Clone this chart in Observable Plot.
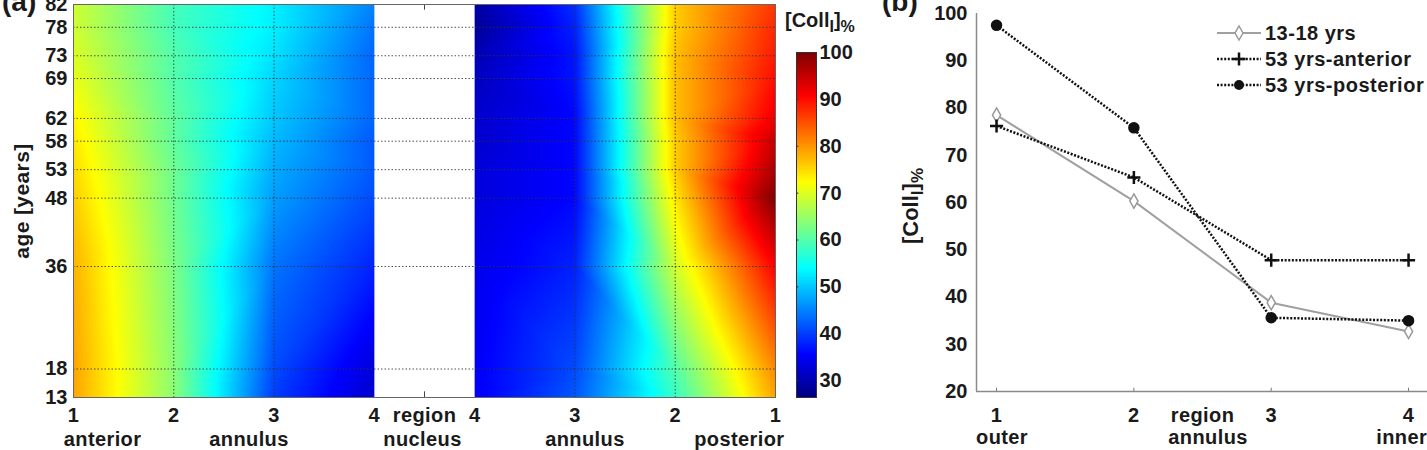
<!DOCTYPE html>
<html>
<head>
<meta charset="utf-8">
<script src="https://cdn.jsdelivr.net/npm/d3@7"></script>
<script src="https://cdn.jsdelivr.net/npm/@observablehq/plot@0.6"></script>
<style>
  body { margin: 0; background: #fff; }
  #fig { position: relative; width: 1427px; height: 450px; overflow: hidden;
         font-family: "Liberation Sans", Arial, sans-serif; font-weight: bold; color: #1a1a1a; }
  .abs { position: absolute; white-space: nowrap; }
  .panel-tag { font-size: 28px; line-height: 28px; }
  .coll { font-size: 20px; line-height: 20px; }
  .coll sub { font-size: 16px; vertical-align: -5px; line-height: 0; }
  .coll.big { font-size: 22px; line-height: 22px; }
  .coll.big sub { font-size: 17px; }
  .legend { left: 1217px; top: 20px; font-size: 20px; letter-spacing: 0.5px; }
  .legend .row { display: flex; align-items: center; height: 26px; }
  .legend svg { margin-right: 4px; }
  .words { letter-spacing: 0.4px; }
</style>
</head>
<body>
<div id="fig"></div>
<script>
// ---- (a) collagen I content across the disc, by age ----
const ages = [13, 18, 36, 48, 53, 58, 62, 69, 73, 78, 82];
const regions = [1, 2, 3, 4];
// rows follow `ages`, columns follow `regions` (1 = outer annulus ... 4 = next to nucleus)
const anteriorColl = [
  [79, 64, 40, 32],
  [79, 64, 41, 33],
  [78, 63, 44, 38],
  [76, 62, 47, 41],
  [75, 62, 48, 42],
  [74, 61, 49, 42],
  [73, 61, 50, 43],
  [71, 60, 51, 43],
  [70, 60, 52, 43],
  [69, 59, 53, 44],
  [69, 59, 53, 45]
];
const posteriorColl = [
  [79, 58, 42, 35],
  [81, 60, 41, 35],
  [91, 69, 38, 34],
  [100, 74, 36, 33],
  [97, 76, 36, 33],
  [95, 76, 36, 32],
  [92, 77, 36, 32],
  [90, 77, 37, 31],
  [89, 77, 37, 30],
  [88, 76, 38, 28],
  [87, 76, 39, 29]
];
const xTickLabelsA = ["1", "2", "3", "4", "region", "4", "3", "2", "1"];
const sideLabelsA = ["anterior", "annulus", "nucleus", "annulus", "posterior"];
const collTicks = [30, 40, 50, 60, 70, 80, 90, 100];
const collRange = [26.4, 100];

// ---- (b) profiles across the annulus ----
const profileRegions = [1, 2, 3, 4];
const young1318 = [78.5, 60.3, 38.8, 32.7];
const anterior53 = [76.2, 65.3, 47.8, 47.8];
const posterior53 = [97.5, 75.8, 35.6, 35.0];
const xTickLabelsB = ["1", "2", "region", "3", "4"];
const sideLabelsB = ["outer", "annulus", "inner"];
const yTicksB = [20, 30, 40, 50, 60, 70, 80, 90, 100];

// jet colour map spread over the [Coll_I]% range
const jetStops = [0, 0.125, 0.375, 0.625, 0.875, 1];
const jetColors = ["#000080", "#0000ff", "#00ffff", "#ffff00", "#ff0000", "#800000"];
const colorScale = {
  type: "linear",
  domain: jetStops.map(t => collRange[0] + t * (collRange[1] - collRange[0])),
  range: jetColors,
  interpolate: "rgb",
  clamp: true
};

const baseStyle = {
  fontFamily: '"Liberation Sans", Arial, sans-serif',
  fontSize: "20px",
  fontWeight: "bold",
  color: "#1a1a1a",
  background: "transparent",
  overflow: "visible"
};

// sample points: anterior regions 1..4 left to right, posterior regions 4..1 after the nucleus
const antPts = [], postPts = [];
ages.forEach((age, i) => {
  regions.forEach((r, j) => {
    antPts.push({x: r - 1, y: age, v: anteriorColl[i][j]});
    postPts.push({x: 8 - r, y: age, v: posteriorColl[i][j]});
  });
});
const xTickPosA = [0, 1, 2, 3, 3.5, 4, 5, 6, 7];
const sideAtA = [0.29, 1.75, 3.48, 5.1, 6.64];
const gridStyle = {stroke: "#333", strokeOpacity: 0.85, strokeDasharray: "1.5,2", strokeWidth: 1};

const heat = Plot.plot({
  width: 780, height: 450,
  marginLeft: 73, marginRight: 5, marginTop: 4, marginBottom: 53,
  x: {domain: [0, 7], axis: null},
  y: {domain: [13, 82], axis: null},
  color: colorScale,
  style: baseStyle,
  marks: [
    Plot.raster(antPts, {x: "x", y: "y", fill: "v", interpolate: "barycentric", x1: 0, x2: 3, y1: 13, y2: 82}),
    Plot.raster(postPts, {x: "x", y: "y", fill: "v", interpolate: "barycentric", x1: 4, x2: 7, y1: 13, y2: 82}),
    Plot.ruleY(ages, gridStyle),
    Plot.ruleX([1, 2, 5, 6], gridStyle),
    Plot.ruleX([3.5], {y1: 13, y2: 14, stroke: "#444"}),
    Plot.ruleX([3.5], {y1: 81, y2: 82, stroke: "#444"}),
    Plot.frame({stroke: "#666"}),
    Plot.axisY(ages, {tickSize: 0, tickPadding: 6, label: null}),
    Plot.axisX(xTickPosA, {tickSize: 0, tickPadding: 10, label: null, className: "words",
      tickFormat: d => xTickLabelsA[xTickPosA.indexOf(d)]}),
    Plot.text(sideLabelsA, {x: (d, i) => sideAtA[i], text: d => d, frameAnchor: "bottom", dy: 42,
      lineAnchor: "middle", className: "words"}),
    Plot.text(["age [years]"], {text: d => d, frameAnchor: "left", dx: -51, rotate: -90,
      textAnchor: "middle", lineAnchor: "middle", fontSize: 21, className: "words"})
  ]
});

const colorbar = Plot.plot({
  width: 90, height: 450,
  marginLeft: 16, marginRight: 54, marginTop: 52, marginBottom: 53,
  x: {domain: [0, 1], axis: null},
  y: {domain: collRange, axis: null},
  color: colorScale,
  style: baseStyle,
  marks: [
    Plot.raster({fill: (x, y) => y, x1: 0, x2: 1, y1: collRange[0], y2: collRange[1]}),
    Plot.ruleY(collTicks, {x1: 0, x2: 0.12, stroke: "#333"}),
    Plot.frame({stroke: "#333"}),
    Plot.axisY(collTicks, {anchor: "right", tickSize: 0, tickPadding: 3, label: null})
  ]
});

const xDomainB = [0.854, 4.138];
const xTickPosB = [1, 2, 2.5, 3, 4];
const sideAtB = [1.04, 2.54, 3.95];
const dotted = {stroke: "#111", strokeWidth: 2.5, strokeDasharray: "2,1.6", strokeLinecap: "butt"};

const profile = Plot.plot({
  width: 557, height: 450,
  marginLeft: 106, marginRight: 0, marginTop: 13, marginBottom: 59,
  x: {domain: xDomainB, axis: null},
  y: {domain: [20, 100], axis: null},
  style: baseStyle,
  marks: [
    Plot.ruleX([xDomainB[0]], {stroke: "#8a8a8a", strokeWidth: 1.5}),
    Plot.ruleY([20], {stroke: "#8a8a8a", strokeWidth: 1.5}),
    Plot.ruleX(profileRegions, {y1: 20, y2: 20.7, stroke: "#777"}),
    Plot.axisY(yTicksB, {tickSize: 0, tickPadding: 9, label: null}),
    Plot.axisX(xTickPosB, {tickSize: 0, tickPadding: 16, label: null, className: "words",
      tickFormat: d => xTickLabelsB[xTickPosB.indexOf(d)]}),
    Plot.text(sideLabelsB, {x: (d, i) => sideAtB[i], text: d => d, frameAnchor: "bottom", dy: 46,
      lineAnchor: "middle", className: "words"}),
    Plot.line(young1318, {x: (d, i) => profileRegions[i], y: d => d, stroke: "#a0a0a0", strokeWidth: 2}),
    Plot.line(anterior53, {x: (d, i) => profileRegions[i], y: d => d, ...dotted}),
    Plot.line(posterior53, {x: (d, i) => profileRegions[i], y: d => d, ...dotted}),
    Plot.dot(young1318, {x: (d, i) => profileRegions[i], y: d => d, symbol: "diamond", r: 4.3,
      fill: "white", stroke: "#999", strokeWidth: 1.5}),
    Plot.dot(anterior53, {x: (d, i) => profileRegions[i], y: d => d, symbol: "plus", r: 4.3,
      stroke: "#111", strokeWidth: 2.5}),
    Plot.dot(posterior53, {x: (d, i) => profileRegions[i], y: d => d, symbol: "circle", r: 5,
      fill: "#111", stroke: "#111"})
  ]
});

const fig = document.getElementById("fig");
function place(node, left, top) {
  const wrap = document.createElement("div");
  wrap.className = "abs";
  wrap.style.left = left + "px";
  wrap.style.top = top + "px";
  wrap.appendChild(node);
  fig.appendChild(wrap);
  return wrap;
}
place(heat, 0, 0);
place(colorbar, 780, 0);
place(profile, 870, 0);

fig.insertAdjacentHTML("beforeend", `
  <div class="abs panel-tag" style="left:2px; top:-12px">(a)</div>
  <div class="abs panel-tag" style="left:882px; top:-12px">(b)</div>
  <div class="abs coll" style="left:785px; top:10px">[Coll<sub>I</sub>]<sub>%</sub></div>
  <div class="abs coll big" style="left:911px; top:206px; transform: translate(-50%,-50%) rotate(-90deg)">[Coll<sub>I</sub>]<sub>%</sub></div>
  <div class="abs legend">
    <div class="row">
      <svg width="44" height="20"><line x1="0" y1="10" x2="44" y2="10" stroke="#a0a0a0" stroke-width="2"/>
        <polygon points="22,3 26,10 22,17 18,10" fill="white" stroke="#999" stroke-width="1.5"/></svg>
      <span>13-18 yrs</span>
    </div>
    <div class="row">
      <svg width="44" height="20"><line x1="0" y1="10" x2="44" y2="10" stroke="#111" stroke-width="2.5" stroke-dasharray="2,1.6"/>
        <path d="M15.5,10H28.5M22,3.5V16.5" stroke="#111" stroke-width="2.5"/></svg>
      <span>53 yrs-anterior</span>
    </div>
    <div class="row">
      <svg width="44" height="20"><line x1="0" y1="10" x2="44" y2="10" stroke="#111" stroke-width="2.5" stroke-dasharray="2,1.6"/>
        <circle cx="22" cy="10" r="5" fill="#111"/></svg>
      <span>53 yrs-posterior</span>
    </div>
  </div>
`);
</script>
</body>
</html>
